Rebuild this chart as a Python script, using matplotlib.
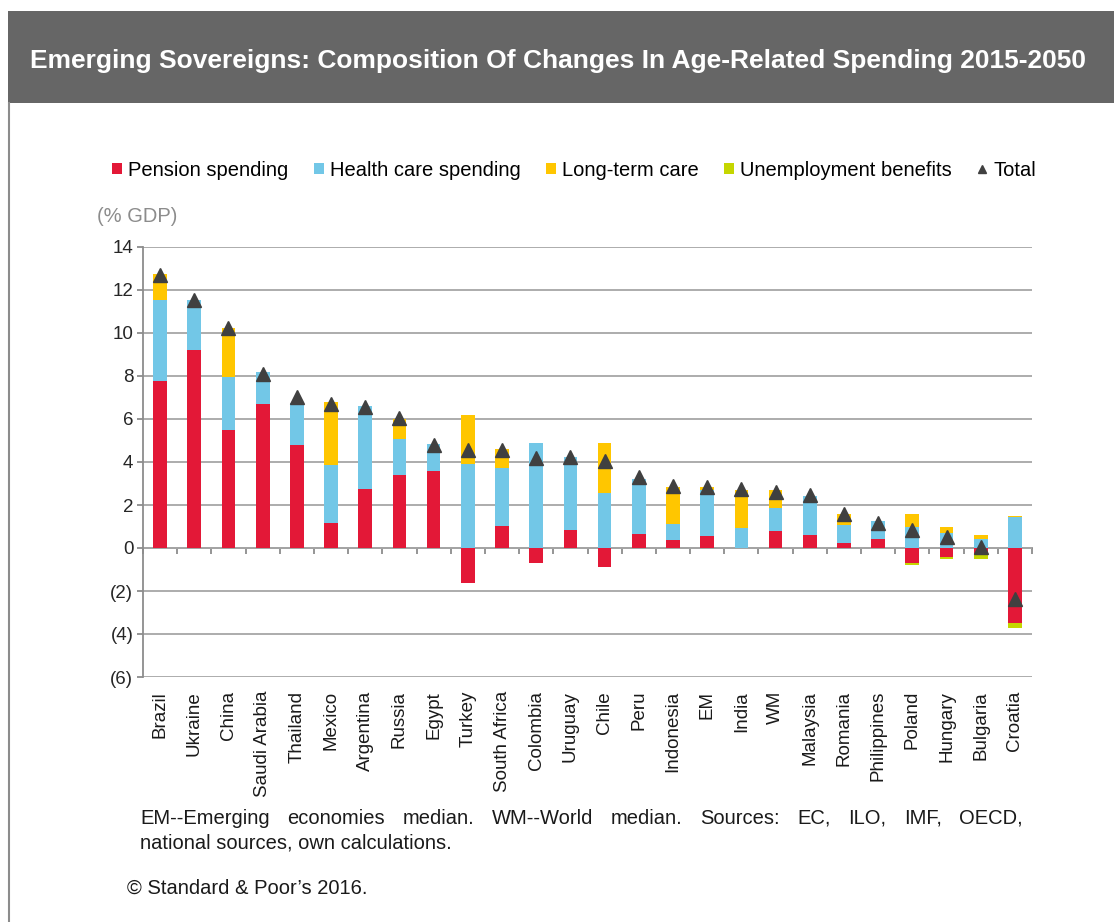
import numpy as np
import matplotlib
matplotlib.use("Agg")
import matplotlib.pyplot as plt
from matplotlib.patches import Rectangle
from matplotlib.lines import Line2D

plt.rcParams['font.family'] = ['Liberation Sans', 'DejaVu Sans']

# data (% of GDP, change 2015-2050)
countries = ['Brazil', 'Ukraine', 'China', 'Saudi Arabia', 'Thailand', 'Mexico',
             'Argentina', 'Russia', 'Egypt', 'Turkey', 'South Africa', 'Colombia',
             'Uruguay', 'Chile', 'Peru', 'Indonesia', 'EM', 'India', 'WM',
             'Malaysia', 'Romania', 'Philippines', 'Poland', 'Hungary',
             'Bulgaria', 'Croatia']
pension = [7.75, 9.23, 5.50, 6.70, 4.78, 1.15, 2.73, 3.40, 3.58, -1.62, 1.02, -0.69,
           0.85, -0.90, 0.66, 0.39, 0.57, 0.00, 0.79, 0.60, 0.23, 0.41, -0.69, -0.41,
           -0.30, -3.47]
health = [3.78, 2.30, 2.45, 1.48, 1.98, 2.69, 3.87, 1.66, 1.25, 3.90, 2.69, 4.89,
          3.38, 2.58, 2.57, 0.74, 2.14, 0.94, 1.07, 1.83, 0.82, 0.83, 0.96, 0.69,
          0.41, 1.42]
ltc = [1.20, 0.00, 2.28, 0.00, 0.00, 2.95, 0.00, 0.96, 0.00, 2.30, 0.90, 0.00,
       0.00, 2.31, 0.00, 1.72, 0.14, 1.75, 0.85, 0.00, 0.55, 0.00, 0.64, 0.27,
       0.19, 0.09]
unemployment = [0, 0, 0, 0, 0, 0, 0, 0, 0, 0, 0, 0, 0, 0, 0, 0, 0, 0, 0, 0, 0, 0,
                -0.09, -0.08, -0.20, -0.25]
total = [12.68, 11.55, 10.25, 8.10, 7.00, 6.69, 6.55, 6.03, 4.77, 4.55, 4.58, 4.20,
         4.23, 4.04, 3.28, 2.90, 2.83, 2.74, 2.62, 2.45, 1.60, 1.15, 0.86, 0.49,
         0.05, -2.37]

series_names = ['Pension spending', 'Health care spending', 'Long-term care',
                'Unemployment benefits']
colors = ['#E31837', '#72C7E7', '#FFC600', '#C5D600']
yticks = [14, 12, 10, 8, 6, 4, 2, 0, -2, -4, -6]

note_line1 = 'EM--Emerging economies median. WM--World median. Sources: EC, ILO, IMF, OECD,'
note_line2 = 'national sources, own calculations.'
source = '\u00a9 Standard & Poor\u2019s 2016.'

W, H = 1114, 922
fig = plt.figure(figsize=(W / 100, H / 100), dpi=100)

# header band + left frame line
fig.patches.append(Rectangle((8 / W, 1 - 103 / H), 1, 92 / H, transform=fig.transFigure,
                             facecolor='#666666', edgecolor='none', zorder=0))
fig.lines.append(Line2D([8.5 / W, 8.5 / W], [0, 1 - 103 / H], transform=fig.transFigure,
                        color='#8c8c8c', lw=1.5))
fig.text(558 / W, 1 - 61 / H,
         'Emerging Sovereigns: Composition Of Changes In Age-Related Spending 2015-2050',
         color='white', fontsize=19, fontweight='bold', ha='center', va='center')

ax = fig.add_axes([143 / W, 1 - 677 / H, 889 / W, 430 / H])
x = np.arange(len(countries))
width = 0.40

pos_base = np.zeros(len(x))
neg_base = np.zeros(len(x))
bar_handles = []
for vals, name, c in zip([pension, health, ltc, unemployment], series_names, colors):
    v = np.array(vals, dtype=float)
    base = np.where(v >= 0, pos_base, neg_base)
    b = ax.bar(x, v, width, bottom=base, color=c, label=name, zorder=3)
    bar_handles.append(b)
    pos_base = pos_base + np.where(v > 0, v, 0)
    neg_base = neg_base + np.where(v < 0, v, 0)

tot, = ax.plot(x, total, linestyle='none', marker='^', markersize=10, color='#404040',
               label='Total', zorder=5)

ax.set_xlim(-0.5, len(x) - 0.5)
ax.set_ylim(-6, 14)
ax.set_yticks(yticks)
ax.set_yticklabels([str(t) if t >= 0 else '(%d)' % -t for t in yticks])
ax.grid(axis='y', color='#a6a6a6', lw=1.3, zorder=0)
ax.set_axisbelow(True)
for s in ['top', 'right', 'bottom']:
    ax.spines[s].set_visible(False)
ax.spines['left'].set_color('#8c8c8c')
ax.spines['left'].set_linewidth(1.3)
ax.tick_params(axis='y', length=4, width=1.3, color='#8c8c8c', labelsize=13.5,
               labelcolor='#262626', pad=3)
ax.set_xticks(x)
ax.set_xticklabels(countries, rotation=90, va='top', ha='center')
ax.tick_params(axis='x', length=0, labelsize=13.5, labelcolor='#1a1a1a', pad=10)

# category axis at zero with boundary ticks
ylo, yhi = ax.get_ylim()
sec = ax.secondary_xaxis((0 - ylo) / (yhi - ylo))
sec.spines['bottom'].set_color('#8c8c8c')
sec.spines['bottom'].set_linewidth(1.3)
sec.set_xticks(np.arange(len(x) + 1) - 0.5)
sec.set_xticklabels([])
sec.tick_params(length=4, width=1.3, color='#8c8c8c', direction='out')

fig.text(97 / W, 1 - 216 / H, '(% GDP)', color='#8c8c8c', fontsize=14.5,
         ha='left', va='center')

handles = bar_handles + [tot]
labels = series_names + ['Total']
leg = fig.legend(handles, labels, loc='center', bbox_to_anchor=(574 / W, 1 - 170 / H),
                 ncol=5, frameon=False, fontsize=14.5, handlelength=0.5,
                 handleheight=0.5, handletextpad=0.3, columnspacing=1.25,
                 markerscale=0.55)


def justified(text, x0, x1, y, **kw):
    # spread words so the line fills x0..x1 (pixel coords)
    words = text.split()
    objs = [fig.text(0, y / H, w, ha='left', va='center', **kw) for w in words]
    r = fig.canvas.get_renderer()
    widths = [o.get_window_extent(r).width for o in objs]
    gap = (x1 - x0 - sum(widths)) / (len(words) - 1)
    pos = x0
    for o, w in zip(objs, widths):
        o.set_x(pos / W)
        pos += w + gap


justified(note_line1, 140, 1023, H - 818, fontsize=14.5, color='#1a1a1a')
fig.text(140 / W, 1 - 843 / H, note_line2, fontsize=14.5, color='#1a1a1a',
         ha='left', va='center')
fig.text(127 / W, 1 - 888 / H, source, fontsize=14.5, color='#1a1a1a',
         ha='left', va='center')

fig.savefig('out.png', dpi=100)
